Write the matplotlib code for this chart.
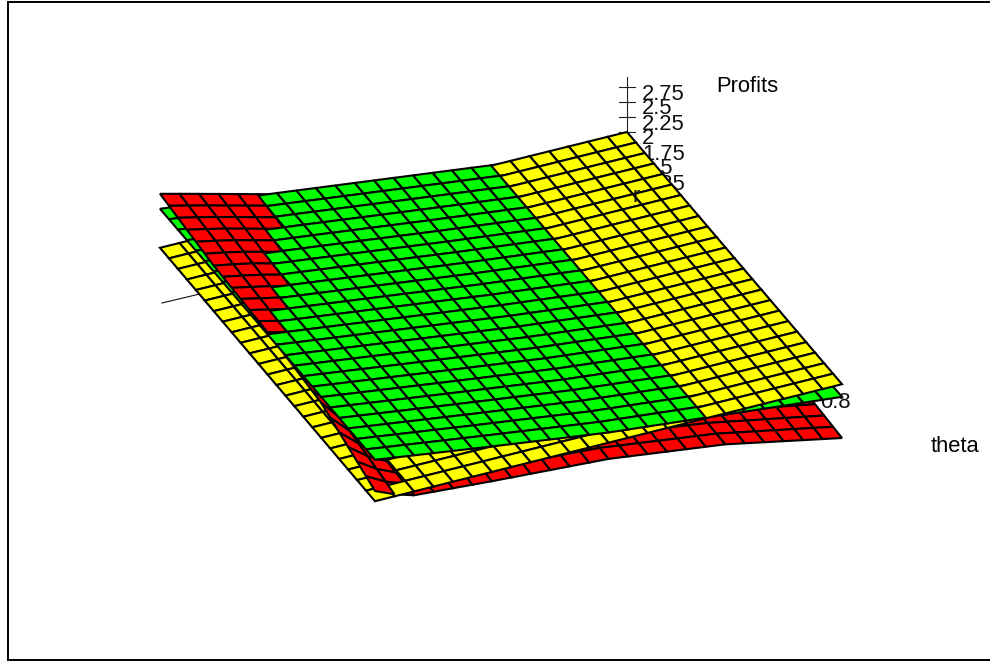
import numpy as np
import matplotlib
matplotlib.use("Agg")
import matplotlib.pyplot as plt
from matplotlib.collections import PolyCollection

plt.rcParams['font.family'] = ['Liberation Sans', 'DejaVu Sans']

# Mesh size of the surface plot (cells along each horizontal axis)
n_r_cells = 24
n_theta_cells = 24

# Profits at coarse control nodes; r and theta are
# normalised 0..1 along the plot box. The 24x24 mesh is refined linearly from them.
yellow_r = [0.0, 1.0]
yellow_theta = [0.0, 1.0]
yellow_profit = [[1.92, 2.00],
                 [1.33, 1.43]]

green_r = [0.0, 0.25, 0.5, 0.72, 1.0]
green_theta = [0.0, 1.0]
green_profit = [[2.57, 2.37, 2.16, 1.975, 1.72],
                [2.02, 1.78, 1.55, 1.405, 1.22]]

red_r = [0.0, 0.07, 0.25, 0.5, 0.75, 1.0]
red_theta = [0.0, 0.25, 0.5, 0.75, 1.0]
red_profit = [[2.82, 2.69, 2.35, 1.90, 1.55, 1.25],
              [2.53, 2.44, 2.10, 1.70, 1.40, 1.10],
              [2.33, 2.20, 1.95, 1.55, 1.25, 0.95],
              [2.06, 1.50, 1.45, 1.30, 1.05, 0.75],
              [1.50, 1.28, 1.20, 1.11, 0.89, 0.533]]

profit_ticks = [2.75, 2.5, 2.25, 2, 1.75, 1.5, 1.25]
profit_tick_labels = ['2.75', '2.5', '2.25', '2', '1.75', '1.5', '1.25']
theta_tick_label = '0.8'
surface_colors = {'yellow': '#ffff00', 'green': '#00ff00', 'red': '#ff0000'}


def project(r, theta, z):
    """Orthographic projection of the plot box onto the page (pixels)."""
    x = 160 + 467 * r + 215 * theta
    y = 303 - 111 * r + 218 * theta - 60 * (z - 1)
    return x, y


def refine(rs, thetas, table):
    rr = np.linspace(0, 1, n_r_cells + 1)
    tt = np.linspace(0, 1, n_theta_cells + 1)
    table = np.asarray(table, float)
    by_r = np.array([np.interp(rr, rs, row) for row in table])
    return rr, tt, np.array([np.interp(tt, thetas, by_r[:, i]) for i in range(len(rr))]).T


fig = plt.figure(figsize=(9.9, 6.63), dpi=100)
ax = fig.add_axes([0, 0, 1, 1])
ax.set_xlim(0, 990)
ax.set_ylim(663, 0)
ax.axis('off')

# frame (left, top and bottom)
ax.plot([995, 7.5, 7.5, 995], [1.5, 1.5, 660, 660], color='black', lw=1.4, zorder=1,
        solid_joinstyle='miter')

# axes
x0, y0 = project(0, 0, 1)
x1, y1 = project(1, 0, 1)
ax.plot([x0 + 2, x1], [y0, y1], color='#111111', lw=0.8, zorder=1)
xa, ya_bottom = project(1, 0, 1.25)
_, ya_top = project(1, 0, 2.92)
ax.plot([xa, xa], [ya_bottom, ya_top], color='#222222', lw=0.8, zorder=1)
for tick, lab in zip(profit_ticks, profit_tick_labels):
    _, yt = project(1, 0, tick)
    ax.plot([xa - 8, xa + 8], [yt, yt], color='#222222', lw=0.8, zorder=1)
    ax.text(642, yt + 7, lab, fontsize=15.8, va='center', ha='left', color='#111111', zorder=1)
ax.text(820, 402, theta_tick_label, fontsize=15.8, va='center', ha='left', color='#111111', zorder=1)
ax.text(716, 86, 'Profits', fontsize=15.8, va='center', ha='left', color='black', zorder=1)
ax.text(931, 447, 'theta', fontsize=15.8, va='center', ha='left', color='black', zorder=1)

# surfaces: every cell of all three sheets, painted back to front, low to high
cells = []
for name, rs, ths, tab in [('yellow', yellow_r, yellow_theta, yellow_profit),
                           ('green', green_r, green_theta, green_profit),
                           ('red', red_r, red_theta, red_profit)]:
    rr, tt, zz = refine(rs, ths, tab)
    R, T = np.meshgrid(rr, tt)
    X, Y = project(R, T, zz)
    for j in range(n_theta_cells):
        for i in range(n_r_cells):
            quad = [(X[j, i], Y[j, i]), (X[j, i + 1], Y[j, i + 1]),
                    (X[j + 1, i + 1], Y[j + 1, i + 1]), (X[j + 1, i], Y[j + 1, i])]
            zm = zz[j:j + 2, i:i + 2].mean()
            cells.append(((n_r_cells - 1 - i) + j, zm, quad, surface_colors[name]))
cells.sort(key=lambda c: (c[0], c[1]))
ax.add_collection(PolyCollection([c[2] for c in cells], facecolors=[c[3] for c in cells],
                                 edgecolors='black', linewidths=1.5, joinstyle='miter', zorder=2))

ax.text(633, 197, 'r', fontsize=15.8, va='center', ha='left', color='#111111', zorder=3)

fig.savefig('out.png', dpi=100)
